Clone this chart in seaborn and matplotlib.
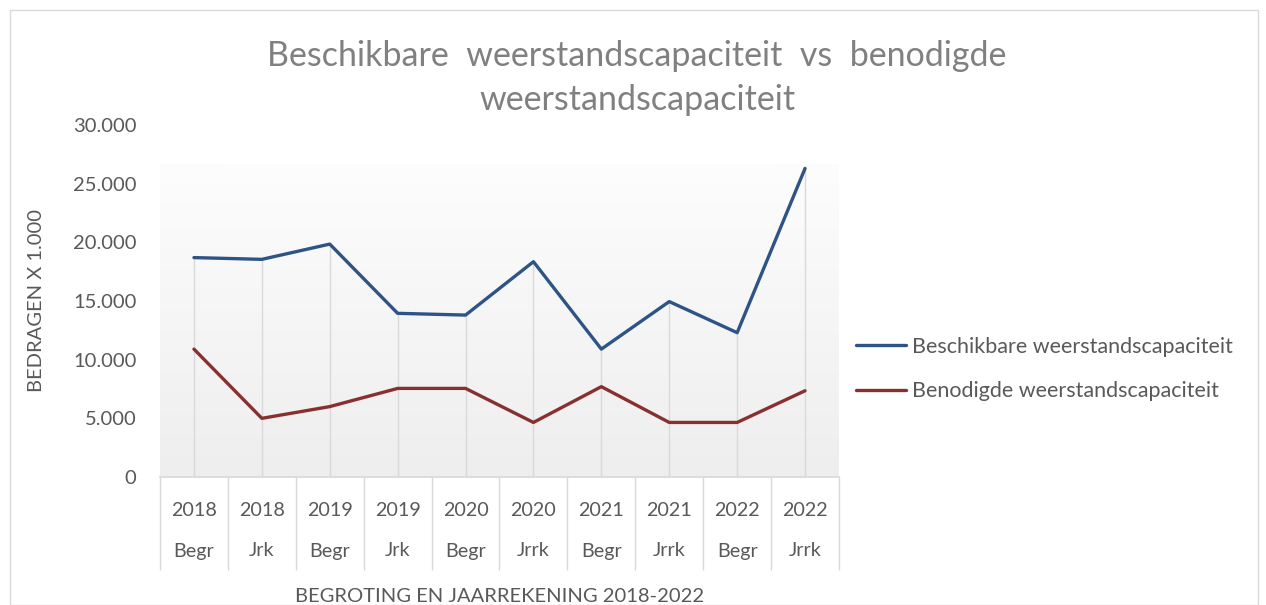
import numpy as np
import pandas as pd
import seaborn as sns
import matplotlib.pyplot as plt
from matplotlib.patches import Rectangle
from matplotlib.colors import LinearSegmentedColormap
from matplotlib.ticker import FuncFormatter

years = ["2018", "2018", "2019", "2019", "2020", "2020", "2021", "2021", "2022", "2022"]
periods = ["Begr", "Jrk", "Begr", "Jrk", "Begr", "Jrrk", "Begr", "Jrrk", "Begr", "Jrrk"]
beschikbaar = [18700, 18550, 19850, 13950, 13800, 18350, 10900, 14950, 12300, 26300]
benodigd = [10900, 5000, 6000, 7550, 7550, 4650, 7700, 4650, 4650, 7350]
series_names = ["Beschikbare weerstandscapaciteit", "Benodigde weerstandscapaciteit"]

pos = np.arange(len(years))
df = pd.DataFrame({
    "pos": np.concatenate([pos, pos]),
    "waarde": beschikbaar + benodigd,
    "reeks": [series_names[0]] * len(pos) + [series_names[1]] * len(pos),
})

sns.set_theme(style="white")
plt.rcParams['font.family'] = ['Lato', 'DejaVu Sans']
txt = '#595959'
kleuren = ["#2E5486", "#87302F"]

fig = plt.figure(figsize=(12.66, 6.05), dpi=100)
ax = fig.add_axes([160/1266, 1-477/605, 679/1266, 352/605])

# gradient plot area
grad = np.linspace(0, 1, 256).reshape(-1, 1)
ax.imshow(grad, extent=(-0.5, 9.5, 0, 26600), aspect='auto', origin='lower',
          cmap=LinearSegmentedColormap.from_list('g', ['#eeeeee', '#fdfdfd']), zorder=0)

# drop lines
ax.vlines(pos, 0, beschikbaar, color='#d9d9d9', lw=1, zorder=1)

sns.lineplot(data=df, x="pos", y="waarde", hue="reeks",
             palette=kleuren, linewidth=2.4, ax=ax, zorder=3, legend=False)

ax.set_xlim(-0.5, 9.5)
ax.set_ylim(0, 30000)
ax.set_yticks(range(0, 30001, 5000))
ax.yaxis.set_major_formatter(FuncFormatter(lambda v, p: f"{int(v):,}".replace(",", ".")))
ax.tick_params(axis='y', length=0, pad=17, labelsize=14.5, labelcolor=txt)
ax.set_xticks(pos)
ax.set_xticklabels(years)
ax.tick_params(axis='x', length=0, pad=18, labelsize=14.2, labelcolor=txt)
for s in ['left', 'top', 'right']:
    ax.spines[s].set_visible(False)
ax.spines['bottom'].set_color('#d9d9d9')

tr = ax.get_xaxis_transform()
for i, p in enumerate(periods):
    ax.text(pos[i], -(551-477)/352, p, transform=tr, ha='center', va='center',
            fontsize=14.2, color=txt)
ax.vlines(np.arange(-0.5, 10, 1), -(570-477)/352, 0, transform=tr, color='#d9d9d9',
          lw=1, clip_on=False)

ax.set_xlabel("BEGROTING EN JAARREKENING 2018-2022", fontsize=14.5, color=txt)
ax.xaxis.set_label_coords(0.5, -(588-477)/352)
ax.set_ylabel("BEDRAGEN X 1.000", fontsize=14.5, color=txt)
ax.yaxis.set_label_coords(-(160-45)/679, 0.5)

fig.text(637/1266, 1-78/605,
         "Beschikbare  weerstandscapaciteit  vs  benodigde\nweerstandscapaciteit",
         ha='center', va='center', fontsize=24.5, color='#808080', linespacing=1.5)

handles = [plt.Line2D([], [], color=c, lw=2.4) for c in kleuren]
fig.legend(handles, series_names, loc='center left', bbox_to_anchor=(837/1266, 1-369/605),
           frameon=False, fontsize=15.5, labelcolor=txt, handlelength=2.3,
           handletextpad=0.3, labelspacing=1.15)

fig.patches.append(Rectangle((10/1266, 0), 1248/1266, 595/605, transform=fig.transFigure,
                             fill=False, edgecolor='#d9d9d9', lw=1))

fig.savefig("out.png", dpi=100)
